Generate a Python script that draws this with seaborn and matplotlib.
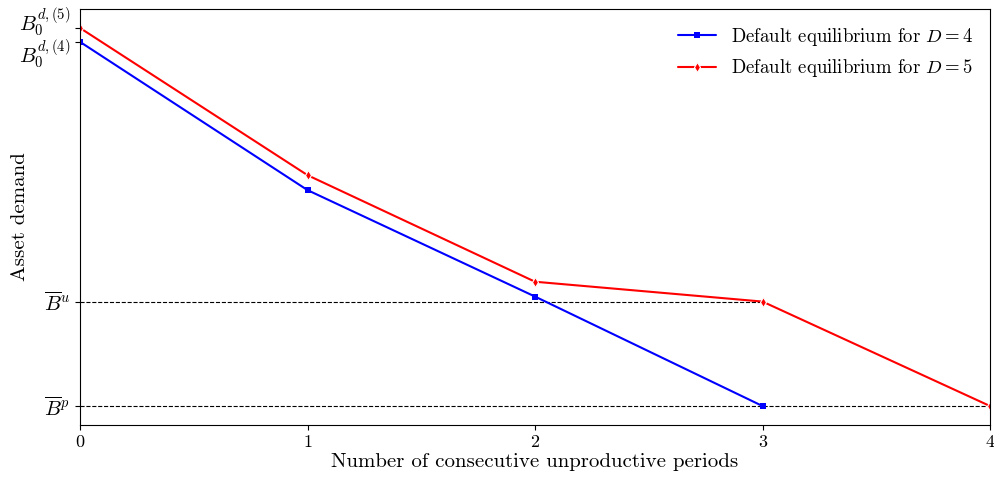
import pandas as pd
import matplotlib
matplotlib.use("Agg")
import matplotlib.pyplot as plt
import matplotlib.transforms as mtransforms
import seaborn as sns

# Data (Bp = 0, Bu = 1 in arbitrary units)
periods_d4 = [0, 1, 2, 3]
demand_d4 = [3.486, 2.067, 1.048, 0.0]
periods_d5 = [0, 1, 2, 3, 4]
demand_d5 = [3.619, 2.21, 1.19, 1.0, 0.0]
B_u = 1.0
B_p = 0.0

sns.set_style("ticks", {"axes.edgecolor": "black", "xtick.color": "black",
                        "ytick.color": "black", "text.color": "black",
                        "axes.labelcolor": "black"})
plt.rcParams["font.family"] = "serif"
plt.rcParams["font.serif"] = ["cmr10"]
plt.rcParams["mathtext.fontset"] = "cm"
plt.rcParams["axes.formatter.use_mathtext"] = True

df4 = pd.DataFrame({"period": periods_d4, "demand": demand_d4})
df5 = pd.DataFrame({"period": periods_d5, "demand": demand_d5})

fig = plt.figure(figsize=(9.94, 4.78), dpi=100)
ax = fig.add_axes([0.0805, 0.111, 0.9155, 0.870])

ax.plot([0, 3], [B_u, B_u], color="black", linestyle="--", linewidth=0.8)
ax.plot([0, 4], [B_p, B_p], color="black", linestyle="--", linewidth=0.8)

sns.lineplot(data=df4, x="period", y="demand", ax=ax, color="blue",
             marker="s", markersize=4, markeredgewidth=0, linewidth=1.5,
             label=r"Default equilibrium for $D = 4$")
sns.lineplot(data=df5, x="period", y="demand", ax=ax, color="red",
             marker="d", markersize=5, markeredgewidth=0.8, linewidth=1.5,
             label=r"Default equilibrium for $D = 5$")

ax.set_xlim(0, 4)
ax.set_xticks([0, 1, 2, 3, 4])
ax.set_xticklabels(["0", "1", "2", "3", "4"], fontsize=13)
ax.set_yticks([B_p, B_u, demand_d4[0], demand_d5[0]])
ax.set_yticklabels([r"$\overline{B}^p$", r"$\overline{B}^u$",
                    r"$B_0^{d,(4)}$", r"$B_0^{d,(5)}$"], fontsize=15)

# nudge the two close labels apart
ylabels = ax.get_yticklabels()
for lab, dy in [(ylabels[2], -8), (ylabels[3], 10)]:
    lab.set_transform(lab.get_transform() +
                      mtransforms.ScaledTranslation(0, dy / 100, fig.dpi_scale_trans))

ax.set_xlabel("Number of consecutive unproductive periods", fontsize=15, labelpad=2)
ax.set_ylabel("Asset demand", fontsize=15)
ax.yaxis.set_label_coords(-0.056, 0.5)
ax.legend(loc="upper right", frameon=False, fontsize=13.5)

fig.savefig("out.png", dpi=100)
